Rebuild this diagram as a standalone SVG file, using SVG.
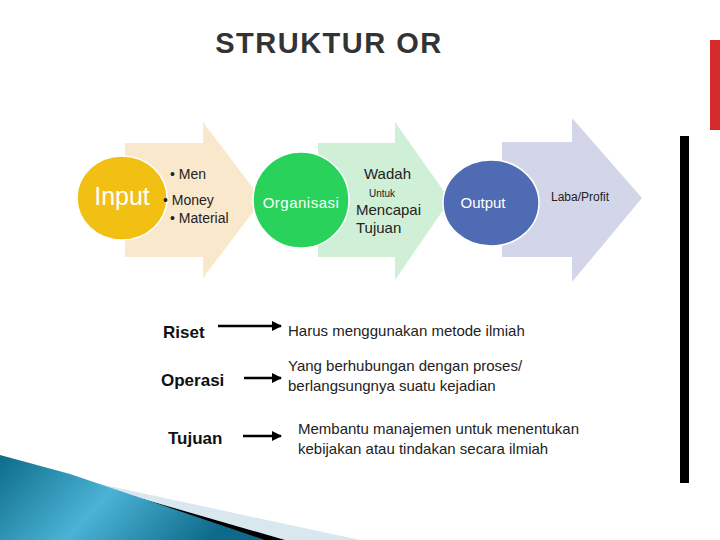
<svg xmlns="http://www.w3.org/2000/svg" width="720" height="540" viewBox="0 0 720 540">
<defs>
<linearGradient id="teal" x1="0" y1="0" x2="1" y2="0.3">
<stop offset="0" stop-color="#0d6c88"/><stop offset="0.5" stop-color="#4bb3d6"/><stop offset="1" stop-color="#0e6a8a"/>
</linearGradient>
<marker id="ah" markerWidth="10" markerHeight="10" refX="9" refY="5" orient="auto" markerUnits="userSpaceOnUse"><path d="M0,0 L10,5 L0,10 Z" fill="#000"/></marker>
</defs>
<style>
text{font-family:"Liberation Sans",Arial,sans-serif}
.s{font-size:14px;fill:#222}
.b{font-size:17px;font-weight:bold;fill:#111}
.r{font-size:15px;fill:#222}
.w{fill:#fff}
</style>
<rect width="720" height="540" fill="#fff"/>
<rect x="710" y="40" width="10" height="90" fill="#d42a2a"/>
<rect x="680" y="136" width="9" height="347" fill="#000"/>
<polygon points="0,468 70,483 95,483 360,540 0,540" fill="#d9e8ef"/>
<polygon points="0,458 70,478 285,540 0,540" fill="#000"/>
<polygon points="0,455 70,474 265,540 0,540" fill="url(#teal)"/>
<text x="329" y="53" text-anchor="middle" font-size="29" font-weight="bold" fill="#333" letter-spacing="1.5">STRUKTUR OR</text>
<g id="arrow1"><polygon points="125,143 203,143 203,122 262,200 203,278 203,257 125,257" fill="#fae8cc"/></g>
<g id="arrow2"><polygon points="318,143 395,143 395,122 450,200 395,280 395,257 318,257" fill="#cfefd7"/></g>
<g id="arrow3"><polygon points="502,142 572,142 572,118 642,198 572,282 572,257 502,257" fill="#d2d6e8"/></g>
<g id="input"><ellipse cx="122" cy="198" rx="45" ry="42" fill="#f2c013" stroke="#fff" stroke-width="1.5"/>
<text x="122" y="205" text-anchor="middle" font-size="25" class="w">Input</text></g>
<g id="inputs"><text x="170" y="179" class="s">• Men</text><text x="163" y="205" class="s">• Money</text><text x="170" y="223" class="s">• Material</text></g>
<g id="organisasi"><circle cx="301" cy="200" r="48" fill="#29d25a" stroke="#fff" stroke-width="1.5"/>
<text x="301" y="208" text-anchor="middle" font-size="15" class="w" letter-spacing="0.5">Organisasi</text></g>
<g id="wadah"><text x="364" y="179" font-size="15" fill="#222">Wadah</text><text x="369" y="197" font-size="10" fill="#222">Untuk</text>
<text x="356" y="215" font-size="15" fill="#222">Mencapai</text><text x="356" y="233" font-size="15" fill="#222">Tujuan</text></g>
<g id="output"><ellipse cx="491" cy="203" rx="48" ry="43" fill="#4f6bb3" stroke="#fff" stroke-width="1.5"/>
<text x="483" y="208" text-anchor="middle" font-size="15" class="w">Output</text></g>
<g id="laba"><text x="551" y="201" font-size="12" fill="#222">Laba/Profit</text></g>
<g id="riset"><text x="163" y="338" class="b">Riset</text><text x="288" y="336" class="r">Harus menggunakan metode ilmiah</text></g>
<g id="operasi"><text x="161" y="386" class="b">Operasi</text><text x="288" y="371" class="r">Yang berhubungan dengan proses/</text><text x="288" y="391" class="r">berlangsungnya suatu kejadian</text></g>
<g id="tujuan"><text x="168" y="444" class="b">Tujuan</text><text x="298" y="434" class="r">Membantu manajemen untuk menentukan</text><text x="298" y="454" class="r">kebijakan atau tindakan secara ilmiah</text></g>
<g id="connectors" stroke="#000" stroke-width="2.5" marker-end="url(#ah)">
<line x1="218" y1="326" x2="281" y2="326"/>
<line x1="244" y1="378" x2="281" y2="378"/>
<line x1="243" y1="436" x2="281" y2="436"/>
</g>
</svg>
